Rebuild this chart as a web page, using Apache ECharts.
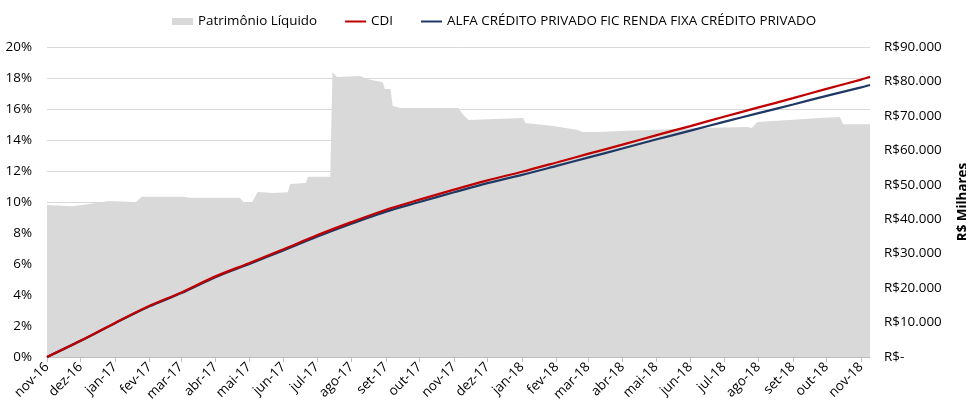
<!DOCTYPE html>
<html>
<head>
<meta charset="utf-8">
<script src="https://cdn.jsdelivr.net/npm/echarts@6/dist/echarts.min.js"></script>
<style>
html,body{margin:0;padding:0;background:#fff;}
#c{width:966px;height:405px;}
</style>
</head>
<body>
<div id="c"></div>
<script>
// ---- DATA ----
var xTickLabels = ['nov-16','dez-16','jan-17','fev-17','mar-17','abr-17','mai-17','jun-17','jul-17','ago-17','set-17','out-17','nov-17','dez-17','jan-18','fev-18','mar-18','abr-18','mai-18','jun-18','jul-18','ago-18','set-18','out-18','nov-18'];
var xTickDates = ['2016-11-01','2016-12-01','2017-01-01','2017-02-01','2017-03-01','2017-04-01','2017-05-01','2017-06-01','2017-07-01','2017-08-01','2017-09-01','2017-10-01','2017-11-01','2017-12-01','2018-01-01','2018-02-01','2018-03-01','2018-04-01','2018-05-01','2018-06-01','2018-07-01','2018-08-01','2018-09-01','2018-10-01','2018-11-01'];
var xEndDate = '2018-11-09';

// Patrimônio Líquido (R$ milhares)
var plDates = ['2016-11-01','2016-11-24','2016-12-27','2017-01-17','2017-01-20','2017-01-25','2017-03-03','2017-03-09','2017-04-23','2017-04-26','2017-05-04','2017-05-09','2017-05-23','2017-06-05','2017-06-07','2017-06-21','2017-06-23','2017-07-13','2017-07-15','2017-07-19','2017-08-09','2017-08-15','2017-08-29','2017-08-31','2017-09-05','2017-09-07','2017-09-14','2017-11-05','2017-11-08','2017-11-14','2018-01-02','2018-01-04','2018-01-29','2018-02-20','2018-02-24','2018-03-10','2018-03-30','2018-04-26','2018-06-10','2018-07-22','2018-07-26','2018-07-31','2018-09-25','2018-10-13','2018-10-16','2018-11-09'];
var plValues = [44100,43800,45300,45000,45000,46500,46500,46200,46200,45000,45000,47900,47600,47800,50200,50500,52300,52300,82700,81300,81600,80700,79800,77800,77800,72900,72300,72300,70800,68800,69400,67900,67100,65900,65300,65300,65600,65900,66500,66800,66500,68200,69400,69700,67600,67600];

// Accumulated returns (%)
var lineDates = ['2016-11-01','2016-12-01','2017-01-01','2017-02-01','2017-03-01','2017-04-01','2017-05-01','2017-06-01','2017-07-01','2017-08-01','2017-09-01','2017-10-01','2017-11-01','2017-12-01','2018-01-01','2018-02-01','2018-03-01','2018-04-01','2018-05-01','2018-06-01','2018-07-01','2018-08-01','2018-09-01','2018-10-01','2018-11-01','2018-11-09'];
var cdiValues  = [0,1.05,2.2,3.3,4.15,5.2,6.05,6.95,7.85,8.7,9.5,10.15,10.8,11.4,11.95,12.55,13.1,13.7,14.3,14.9,15.5,16.1,16.7,17.3,17.9,18.08];
var alfaValues = [0,1.04,2.18,3.27,4.11,5.15,5.99,6.88,7.76,8.6,9.38,10.0,10.63,11.22,11.75,12.33,12.86,13.45,14.03,14.6,15.17,15.73,16.29,16.85,17.4,17.55];

var seriesNames = ['Patrimônio Líquido','CDI','ALFA CRÉDITO PRIVADO FIC RENDA FIXA CRÉDITO PRIVADO'];

// ---- BUILD ----
function ts(s){ var p=s.split('-'); return +new Date(+p[0], +p[1]-1, +p[2]); }
function zip(d, v){ return d.map(function(x,i){ return [ts(x), v[i]]; }); }
var tickTs = xTickDates.map(ts);
var FONT = 'Open Sans';
var FS = 13.4;
var LINE_ICON = 'path://M0,0 L0.01,0 L0.01,0.01 Z M0,2.4 L21,2.4 L21,4.6 L0,4.6 Z M0,7 L0.01,7 L0.01,6.99 Z';

var chart = echarts.init(document.getElementById('c'), null, {renderer:'canvas'});
chart.setOption({
  animation:false,
  textStyle:{fontFamily:FONT},
  legend:{
    left:172, top:15, padding:0, itemGap:28, itemWidth:21, itemHeight:7,
    textStyle:{fontFamily:FONT, fontSize:FS, color:'#000'},
    data:[{name:seriesNames[0], icon:'rect'}, {name:seriesNames[1], icon:LINE_ICON}, {name:seriesNames[2], icon:LINE_ICON}]
  },
  grid:{left:47, right:96, top:47, bottom:48, containLabel:false, outerBoundsMode:'none'},
  xAxis:{
    type:'value',
    min: tickTs[0],
    max: ts(xEndDate),
    axisLine:{show:true, onZero:false, lineStyle:{color:'#bfbfbf', width:1}},
    axisTick:{show:true, length:5, lineStyle:{color:'#bfbfbf'}, customValues: tickTs},
    axisLabel:{
      customValues: tickTs, rotate:45, fontFamily:FONT, fontSize:FS, color:'#000', margin:8,
      formatter:function(v){ var i = tickTs.indexOf(v); return i>=0 ? xTickLabels[i] : ''; }
    },
    splitLine:{show:false}
  },
  yAxis:[{
    type:'value', min:0, max:20, interval:2, position:'left',
    axisLine:{show:false}, axisTick:{show:false},
    axisLabel:{formatter:'{value}%', fontFamily:FONT, fontSize:FS, color:'#000', margin:15},
    splitLine:{show:true, lineStyle:{color:'#d9d9d9', width:1}}
  },{
    type:'value', min:0, max:90000, interval:10000, position:'right',
    name:'R$ Milhares', nameLocation:'middle', nameRotate:90, nameGap:87,
    nameTextStyle:{fontFamily:FONT, fontSize:FS, fontWeight:'bold', color:'#000'},
    axisLine:{show:false}, axisTick:{show:false},
    axisLabel:{fontFamily:FONT, fontSize:FS, color:'#000', margin:14,
      formatter:function(v){ if(v===0) return 'R$-'; return 'R$' + String(v).replace(/\B(?=(\d{3})+(?!\d))/g,'.'); }},
    splitLine:{show:false}
  }],
  series:[{
    name:seriesNames[0], type:'line', yAxisIndex:1, data:zip(plDates, plValues),
    symbol:'none', lineStyle:{width:0, color:'#d9d9d9'}, itemStyle:{color:'#d9d9d9'},
    areaStyle:{color:'#d9d9d9', opacity:1}, z:1
  },{
    name:seriesNames[1], type:'line', yAxisIndex:0, data:zip(lineDates, cdiValues),
    symbol:'none', smooth:0.3, lineStyle:{width:2.25, color:'#c00000'}, itemStyle:{color:'#c00000'}, z:3
  },{
    name:seriesNames[2], type:'line', yAxisIndex:0, data:zip(lineDates, alfaValues),
    symbol:'none', smooth:0.3, lineStyle:{width:2.25, color:'#1f3864'}, itemStyle:{color:'#1f3864'}, z:2
  }]
});
</script>
</body>
</html>
